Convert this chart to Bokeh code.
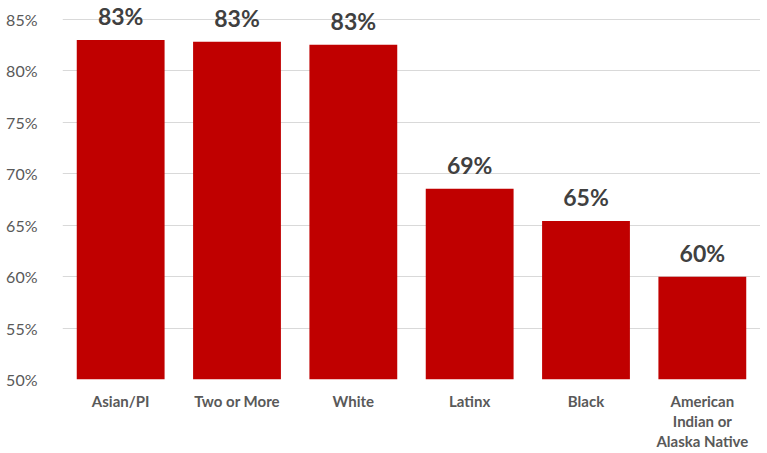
from bokeh.plotting import figure
from bokeh.models import Range1d, FixedTicker, ColumnDataSource, LinearAxis
from bokeh.core.properties import value
from bokeh.embed import file_html
from bokeh.resources import INLINE

categories = ["Asian/PI", "Two or More", "White", "Latinx", "Black",
              "American Indian or Alaska Native"]
# x labels, one list per text line
label_line1 = ["Asian/PI", "Two or More", "White", "Latinx", "Black", "American"]
label_line2 = ["", "", "", "", "", "Indian or"]
label_line3 = ["", "", "", "", "", "Alaska Native"]
rates = [83.0, 82.85, 82.55, 68.55, 65.4, 60.0]
rate_labels = ["83%", "83%", "83%", "69%", "65%", "60%"]
y_ticks = [50, 55, 60, 65, 70, 75, 80, 85]
axis_floor = 50

FONT = "Lato"

xs = list(range(len(categories)))
src = ColumnDataSource(dict(x=xs, cat=categories, rate=rates, lab=rate_labels))

p = figure(x_range=Range1d(-0.5, len(categories) - 0.5),
           y_range=Range1d(axis_floor, 86.85),
           width=760, height=453, output_backend="svg", toolbar_location=None,
           min_border_left=62, min_border_right=0, min_border_top=0, min_border_bottom=74)
p.outline_line_color = None
p.background_fill_color = "white"
p.border_fill_color = "white"

p.vbar(x="x", top="rate", bottom=axis_floor, width=0.755, source=src,
       fill_color="#C00000", line_color=None)
p.text(x="x", y="rate", text="lab", source=src, y_offset=-24,
       text_align="center", text_baseline="middle",
       text_font=value(FONT), text_font_style="bold", text_font_size="23px",
       text_color="#404040")

p.yaxis.ticker = FixedTicker(ticks=y_ticks)
p.yaxis.major_label_overrides = {t: f"{t}%" for t in y_ticks}
p.yaxis.major_label_text_font = FONT
p.yaxis.major_label_text_font_size = "16px"
p.yaxis.major_label_text_color = "#595959"
p.yaxis.axis_line_color = None
p.yaxis.major_tick_line_color = None
p.yaxis.minor_tick_line_color = None
p.yaxis.major_label_standoff = 19

p.xaxis.visible = False

for lines, standoff in [(label_line1, 12), (label_line2, -1), (label_line3, -1)]:
    ax = LinearAxis(
        ticker=FixedTicker(ticks=xs),
        major_label_overrides={i: (t if t else " ") for i, t in zip(xs, lines)},
        major_label_standoff=standoff,
        major_label_text_font=FONT,
        major_label_text_font_style="bold",
        major_label_text_font_size="15px",
        major_label_text_color="#595959",
        axis_line_color=None,
        major_tick_line_color=None,
        minor_tick_line_color=None,
        major_tick_in=0, major_tick_out=0,
    )
    p.add_layout(ax, "below")

p.xgrid.grid_line_color = None
p.ygrid.grid_line_color = "#d9d9d9"
p.ygrid.ticker = FixedTicker(ticks=y_ticks)

open("out.html", "w").write(file_html(p, INLINE))
